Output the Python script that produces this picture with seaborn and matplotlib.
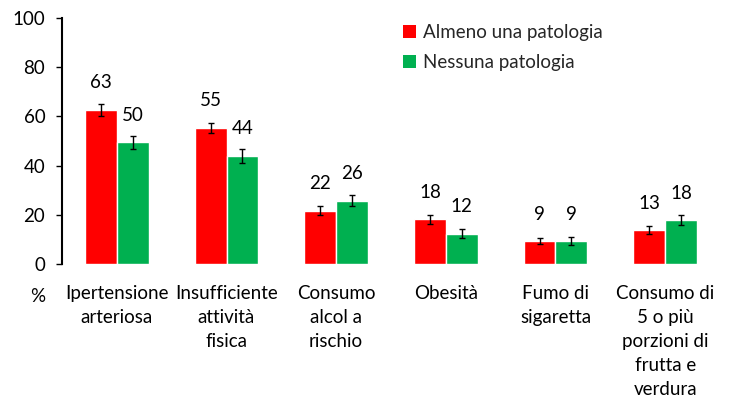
import matplotlib
matplotlib.use("Agg")
import matplotlib.pyplot as plt
import seaborn as sns
import pandas as pd
import numpy as np

categories = ["Ipertensione\narteriosa", "Insufficiente\nattività\nfisica",
              "Consumo\nalcol a\nrischio", "Obesità", "Fumo di\nsigaretta",
              "Consumo di\n5 o più\nporzioni di\nfrutta e\nverdura"]
series = ["Almeno una patologia", "Nessuna patologia"]
almeno = [62.6, 55.4, 21.7, 18.2, 9.3, 13.8]
nessuna = [49.5, 43.9, 25.7, 12.3, 9.3, 17.8]
almeno_labels = ["63", "55", "22", "18", "9", "13"]
nessuna_labels = ["50", "44", "26", "12", "9", "18"]
almeno_err = [2.3, 2.0, 1.75, 1.8, 1.35, 1.6]
nessuna_err = [2.7, 2.7, 2.3, 1.9, 1.6, 2.0]
colors = ["#FF0000", "#00B050"]

FS = 13.5

sns.set_theme(style="white")
plt.rcParams["font.family"] = ["Lato", "DejaVu Sans"]

df = pd.DataFrame({
    "cat": categories * 2,
    "serie": [series[0]] * 6 + [series[1]] * 6,
    "val": almeno + nessuna,
})

fig = plt.figure(figsize=(7.29, 4.01), dpi=100)
ax = fig.add_axes([62 / 729, 1 - 264 / 401, (720 - 62) / 729, (264 - 18) / 401])
sns.barplot(data=df, x="cat", y="val", hue="serie", palette=colors,
            saturation=1, width=0.58, gap=0, ax=ax, errorbar=None)

ax.set_ylim(0, 100)
ax.set_xlim(-0.5, 5.5)
ax.set_yticks([0, 20, 40, 60, 80, 100])
ax.set_xlabel("")
ax.set_ylabel("")
for s in ["top", "right", "bottom"]:
    ax.spines[s].set_visible(False)
ax.spines["left"].set_color("black")
ax.spines["left"].set_linewidth(1.5)
ax.tick_params(axis="y", left=True, length=4, width=1, color="black",
               labelsize=FS, pad=8, labelcolor="black")
ax.tick_params(axis="x", bottom=False, length=0, labelsize=FS, pad=15,
               labelcolor="black")
for t in ax.get_xticklabels():
    t.set_linespacing(1.5)
    t.set_va("top")

patches = [p for p in ax.patches if p.get_height() > 0]
red = sorted(patches[:6], key=lambda p: p.get_x())
green = sorted(patches[6:12], key=lambda p: p.get_x())
for bars, vals, errs, labs in [(red, almeno, almeno_err, almeno_labels),
                               (green, nessuna, nessuna_err, nessuna_labels)]:
    xs = [p.get_x() + p.get_width() / 2 for p in bars]
    ax.errorbar(xs, vals, yerr=errs, fmt="none", ecolor="black",
                elinewidth=1, capsize=2.5, capthick=1)
    for x, v, l in zip(xs, vals, labs):
        ax.annotate(l, (x, v), xytext=(0, 15.5), textcoords="offset points",
                    ha="center", va="baseline", fontsize=FS, color="black")

leg = ax.legend(loc="upper left", bbox_to_anchor=(403 / 729, 1 - 24 / 401),
                bbox_transform=fig.transFigure, frameon=False, fontsize=FS,
                handlelength=0.7, handleheight=0.7, handletextpad=0.35,
                labelspacing=0.7, borderpad=0, borderaxespad=0)
for h in leg.legend_handles:
    h.set_edgecolor("none")

fig.text(37.5 / 729, 1 - 297 / 401, "%", ha="center", va="center",
         fontsize=FS, color="black")

fig.savefig("out.png", dpi=100)
